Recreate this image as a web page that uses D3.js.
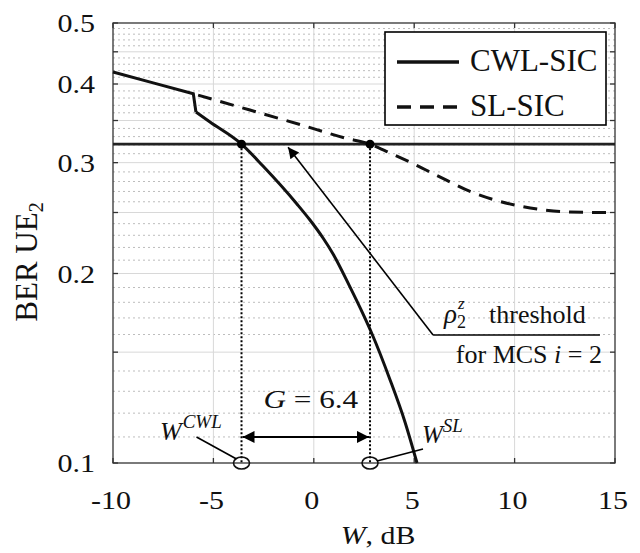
<!DOCTYPE html>
<html>
<head>
<meta charset="utf-8">
<script src="https://cdn.jsdelivr.net/npm/d3@7"></script>
<style>
  body { margin: 0; background: #fff; }
  svg { display: block; }
</style>
</head>
<body>
<svg width="640" height="553"></svg>
<script>
// BER of UE2 vs W (dB)
const cwlW   = [-10, -8, -6, -5.87, -5.17, -3.6, -2.53, -0.84, -0.19, 0.46, 0.96, 1.8, 2.45, 2.9, 3.8, 4.54, 5.14];
const cwlBer = [0.418, 0.4017, 0.386, 0.361, 0.348, 0.321, 0.2963, 0.2579, 0.2432, 0.2277, 0.2148, 0.1904, 0.1725, 0.1603, 0.1355, 0.1162, 0.100];

const slW   = [-6, -3.18, -0.69, 1.55, 2.8, 3.8, 4.94, 6.63, 7.78, 8.92, 10.12, 11.27, 12.61, 14.9, 15];
const slBer = [0.386, 0.3637, 0.3449, 0.3283, 0.321, 0.3108, 0.299, 0.2811, 0.270, 0.2622, 0.2565, 0.2528, 0.2505, 0.2499, 0.2499];

const thresholdBer = 0.321;
const wCwl = -3.6;
const wSl = 2.8;
const gain = '6.4';

const xTicks = [-10, -5, 0, 5, 10, 15];
const yTickLabels = [0.1, 0.2, 0.3, 0.4, 0.5];

const FONT = "'Liberation Serif', 'Times New Roman', serif";

const svg = d3.select('svg');
const margin = { top: 23, right: 25, bottom: 90, left: 113 };
const width = 640 - margin.left - margin.right;
const height = 553 - margin.top - margin.bottom;

const x = d3.scaleLinear().domain([-10, 15]).range([margin.left, margin.left + width]);
const y = d3.scaleLog().domain([0.1, 0.5]).range([margin.top + height, margin.top]);

// grid: every 0.01 in y (solid at multiples of 0.05), every 5 in x
const gridVals = d3.range(10, 51).map(v => v / 100);
const isMajor = v => Math.round(v * 100) % 5 === 0;

const grid = svg.append('g');
grid.selectAll('.hg')
  .data(gridVals.filter(v => v > 0.1 && v < 0.5))
  .enter().append('line')
  .attr('x1', x(-10)).attr('x2', x(15))
  .attr('y1', d => y(d)).attr('y2', d => y(d))
  .attr('stroke', d => isMajor(d) ? '#d8d8d8' : '#bdbdbd')
  .attr('stroke-width', 1)
  .attr('stroke-dasharray', d => isMajor(d) ? null : '2,3');

grid.selectAll('.vg')
  .data(xTicks.slice(1, -1))
  .enter().append('line')
  .attr('x1', d => x(d)).attr('x2', d => x(d))
  .attr('y1', y(0.1)).attr('y2', y(0.5))
  .attr('stroke', '#d8d8d8');

// axes box with inward ticks
const frame = svg.append('g').attr('stroke', '#333').attr('stroke-width', 1.3);
frame.append('rect')
  .attr('x', x(-10)).attr('y', y(0.5))
  .attr('width', width).attr('height', height)
  .attr('fill', 'none');

const yTickVals = gridVals.filter(isMajor);
frame.selectAll('.tl').data(yTickVals).enter().append('line')
  .attr('x1', x(-10)).attr('x2', x(-10) + 5)
  .attr('y1', d => y(d)).attr('y2', d => y(d));
frame.selectAll('.tr').data(yTickVals).enter().append('line')
  .attr('x1', x(15)).attr('x2', x(15) - 5)
  .attr('y1', d => y(d)).attr('y2', d => y(d));
frame.selectAll('.tb').data(xTicks).enter().append('line')
  .attr('x1', d => x(d)).attr('x2', d => x(d))
  .attr('y1', y(0.1)).attr('y2', y(0.1) - 5);
frame.selectAll('.tt').data(xTicks).enter().append('line')
  .attr('x1', d => x(d)).attr('x2', d => x(d))
  .attr('y1', y(0.5)).attr('y2', y(0.5) + 5);

// stretched text helper (tick labels in the figure are a bit wide)
const label = (px, py, str, size, sx, anchor) => svg.append('text')
  .attr('transform', `translate(${px},${py}) scale(${sx},1)`)
  .attr('text-anchor', anchor)
  .attr('font-size', size)
  .attr('fill', '#111')
  .text(str);

yTickLabels.forEach(v => label(95, y(v) + 9, v.toString(), 25, 1.2, 'end'));
xTicks.forEach(v => label(x(v) - 2, 509, v.toString(), 25, 1.2, 'middle'));

// axis titles
const xt = svg.append('text')
  .attr('transform', 'translate(378,544) scale(1.15,1)')
  .attr('text-anchor', 'middle').attr('font-size', 26).attr('fill', '#111');
xt.append('tspan').attr('font-style', 'italic').text('W');
xt.append('tspan').text(', dB');

const yt = svg.append('text')
  .attr('transform', 'translate(37,262) rotate(-90)')
  .attr('text-anchor', 'middle').attr('font-size', 31).attr('fill', '#111');
yt.append('tspan').text('BER UE');
yt.append('tspan').attr('font-size', 20).attr('dy', 6).text('2');

// threshold line
svg.append('line')
  .attr('x1', x(-10)).attr('x2', x(15))
  .attr('y1', y(thresholdBer)).attr('y2', y(thresholdBer))
  .attr('stroke', '#222').attr('stroke-width', 2.6);

// curves
const toPts = (ws, bs) => ws.map((w, i) => [w, bs[i]]);
const smooth = d3.line().x(d => x(d[0])).y(d => y(d[1])).curve(d3.curveMonotoneX);
const straight = d3.line().x(d => x(d[0])).y(d => y(d[1]));

svg.append('path')
  .datum(toPts(slW, slBer))
  .attr('d', smooth)
  .attr('fill', 'none').attr('stroke', '#111').attr('stroke-width', 3)
  .attr('stroke-dasharray', '14,9')
  .attr('stroke-dashoffset', 18);

// CWL: straight run up to the step, smooth after it
const cwlPts = toPts(cwlW, cwlBer);
svg.append('path')
  .datum(cwlPts.slice(0, 4))
  .attr('d', straight)
  .attr('fill', 'none').attr('stroke', '#111').attr('stroke-width', 3)
  .attr('stroke-linejoin', 'miter');
svg.append('path')
  .datum(cwlPts.slice(3))
  .attr('d', smooth)
  .attr('fill', 'none').attr('stroke', '#111').attr('stroke-width', 3);

// crossing markers and drop lines
[wCwl, wSl].forEach(w => {
  svg.append('line')
    .attr('x1', x(w)).attr('x2', x(w))
    .attr('y1', y(thresholdBer)).attr('y2', y(0.1))
    .attr('stroke', '#000').attr('stroke-width', 2)
    .attr('stroke-dasharray', '2,2');
  svg.append('circle')
    .attr('cx', x(w)).attr('cy', y(thresholdBer)).attr('r', 4.5)
    .attr('fill', '#000');
  svg.append('ellipse')
    .attr('cx', x(w)).attr('cy', y(0.1)).attr('rx', 8).attr('ry', 6)
    .attr('fill', 'none').attr('stroke', '#111').attr('stroke-width', 1.6);
});

// arrow markers
const defs = svg.append('defs');
defs.append('marker')
  .attr('id', 'head')
  .attr('viewBox', '0 0 10 10').attr('refX', 10).attr('refY', 5)
  .attr('markerWidth', 14).attr('markerHeight', 12)
  .attr('markerUnits', 'userSpaceOnUse')
  .attr('orient', 'auto-start-reverse')
  .append('path').attr('d', 'M0,0 L10,5 L0,10 Z').attr('fill', '#000');
defs.append('marker')
  .attr('id', 'head2')
  .attr('viewBox', '0 0 10 10').attr('refX', 10).attr('refY', 5)
  .attr('markerWidth', 17).attr('markerHeight', 11)
  .attr('markerUnits', 'userSpaceOnUse')
  .attr('orient', 'auto')
  .append('path').attr('d', 'M0,0 L10,5 L0,10 Z').attr('fill', '#000');

// G = 6.4 double arrow
const gY = y(0.11);
svg.append('line')
  .attr('x1', x(wCwl) + 1).attr('x2', x(wSl) - 1)
  .attr('y1', gY).attr('y2', gY)
  .attr('stroke', '#000').attr('stroke-width', 2)
  .attr('marker-start', 'url(#head)').attr('marker-end', 'url(#head)');
const gt = svg.append('text')
  .attr('transform', `translate(${x(wCwl) + 22},${gY - 29}) scale(1.2,1)`)
  .attr('font-size', 26).attr('fill', '#111');
gt.append('tspan').attr('font-style', 'italic').text('G');
gt.append('tspan').text(' = ' + gain);

// W^CWL and W^SL labels with leaders
const cx0 = x(wCwl), cx1 = x(wSl), cy = y(0.1);
svg.append('line')
  .attr('x1', cx0 - 45).attr('y1', cy - 26).attr('x2', cx0 - 5).attr('y2', cy - 4)
  .attr('stroke', '#000').attr('stroke-width', 1.6);
const wc = svg.append('text').attr('x', 160).attr('y', 440)
  .attr('font-size', 26).attr('font-style', 'italic').attr('fill', '#111');
wc.append('tspan').text('W');
wc.append('tspan').attr('font-size', 19).attr('dy', -12).attr('dx', 1).text('CWL');

svg.append('line')
  .attr('x1', cx1 + 53).attr('y1', cy - 14).attr('x2', cx1 + 7).attr('y2', cy - 2)
  .attr('stroke', '#000').attr('stroke-width', 1.6);
const ws = svg.append('text').attr('x', 422).attr('y', 443)
  .attr('font-size', 25).attr('font-style', 'italic').attr('fill', '#111');
ws.append('tspan').text('W');
ws.append('tspan').attr('font-size', 19).attr('dy', -11).attr('dx', 0).text('SL');

// threshold annotation
const ax0 = x(5.94), ay0 = y(0.1597);
svg.append('line')
  .attr('x1', ax0).attr('y1', ay0).attr('x2', x(14.25)).attr('y2', ay0)
  .attr('stroke', '#000').attr('stroke-width', 1.6);
svg.append('line')
  .attr('x1', ax0).attr('y1', ay0).attr('x2', x(-1.28)).attr('y2', y(thresholdBer) + 3)
  .attr('stroke', '#000').attr('stroke-width', 1.6)
  .attr('marker-end', 'url(#head2)');

const rho = svg.append('text').attr('x', 444).attr('y', 323)
  .attr('font-size', 27).attr('fill', '#111');
rho.append('tspan').attr('font-style', 'italic').text('ρ');
rho.append('tspan').attr('font-size', 18).attr('dy', 5).text('2');
rho.append('tspan').attr('font-size', 17).attr('font-style', 'italic')
  .attr('dx', -8).attr('dy', -19).text('z');
rho.append('tspan').attr('font-size', 26).attr('x', 489).attr('dy', 14).text('threshold');

const mcs = svg.append('text').attr('x', 602).attr('y', 363)
  .attr('text-anchor', 'end').attr('font-size', 26).attr('fill', '#111');
mcs.append('tspan').text('for MCS ');
mcs.append('tspan').attr('font-style', 'italic').text('i');
mcs.append('tspan').text(' = 2');

// legend
const lg = svg.append('g');
lg.append('rect')
  .attr('x', 385).attr('y', 32).attr('width', 221).attr('height', 93)
  .attr('fill', '#fff').attr('stroke', '#000').attr('stroke-width', 1.6);
const legendItems = [
  { name: 'CWL-SIC', dash: null, y: 62 },
  { name: 'SL-SIC', dash: '14,9', y: 107 }
];
legendItems.forEach(it => {
  lg.append('line')
    .attr('x1', 397).attr('x2', 459).attr('y1', it.y).attr('y2', it.y)
    .attr('stroke', '#111').attr('stroke-width', 3.5)
    .attr('stroke-dasharray', it.dash);
  lg.append('text')
    .attr('x', 470).attr('y', it.y + 9)
    .attr('font-size', 31).attr('fill', '#111')
    .text(it.name);
});

svg.selectAll('text').style('font-family', FONT);
</script>
</body>
</html>
